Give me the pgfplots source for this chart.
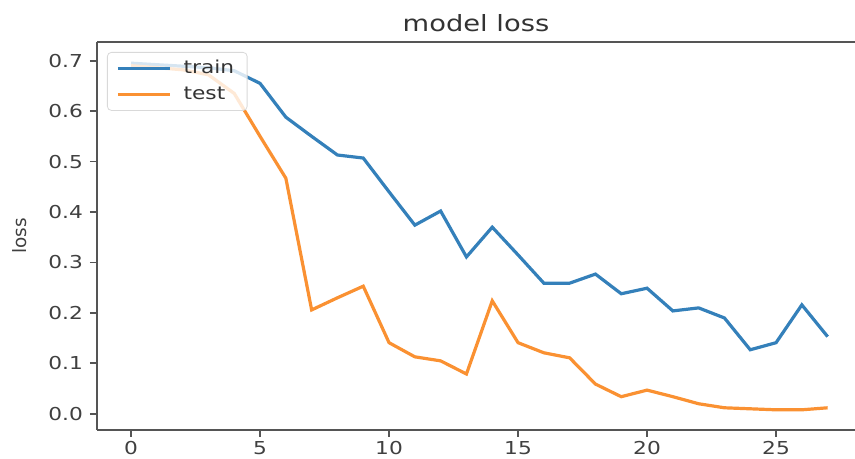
\documentclass[border=0pt]{standalone}
\usepackage{fontspec}
\setmainfont{DejaVu Sans}
\usepackage{graphicx}
\usepackage{pgfplots}
\pgfplotsset{compat=1.18}
\definecolor{mplblue}{RGB}{52,128,186}
\definecolor{mplorange}{RGB}{250,145,50}
\definecolor{spine}{RGB}{85,85,85}
\newcommand{\sx}[1]{\scalebox{1.22}[1]{#1}}
\begin{document}
\begin{tikzpicture}
\begin{axis}[
  scale only axis,
  width=379pt, height=194pt,
  xmin=-1.32, xmax=28.06,
  ymin=-0.032, ymax=0.737,
  axis y line*=left,
  axis x line*=box,
  xtick pos=left,
  axis line style={spine, line width=0.9pt},
  tick style={spine, line width=0.9pt},
  tick align=outside,
  major tick length=3.5pt,
  xtick={0,5,10,15,20,25},
  ytick={0,0.1,0.2,0.3,0.4,0.5,0.6,0.7},
  xticklabel={\sx{\pgfmathprintnumber[assume math mode=true]{\tick}}},
  yticklabel={\sx{\pgfmathprintnumber[assume math mode=true,fixed,fixed zerofill,precision=1]{\tick}}},
  tick label style={font=\fontsize{8.9}{10}\selectfont, text=black!75},
  xticklabel style={yshift=1.5pt},
  title={\sx{model loss}},
  title style={font=\fontsize{11.2}{13}\selectfont, text=black!80, at={(axis description cs:0.5,1)}, anchor=base, yshift=-1pt},
  ylabel={loss},
  ylabel style={font=\fontsize{9.2}{10}\selectfont, text=black!75, at={(axis description cs:-0.1016,0.5)}, anchor=center},
  legend style={at={(axis description cs:0,1)}, anchor=north west, xshift=5pt, yshift=-5pt,
    draw=black!15, rounded corners=2pt, fill=white, fill opacity=0.8, text opacity=1,
    font=\fontsize{8.9}{10}\selectfont, text=black!80, row sep=1pt, inner xsep=4.5pt, inner ysep=2pt},
  legend cell align=left,
  legend image code/.code={\draw[#1] (0pt,0pt) -- (26pt,0pt); \path (30pt,0pt);},
]
\addplot[mplblue, line width=1.6pt] coordinates {
(0,0.695) (1,0.692) (2,0.689) (3,0.686) (4,0.680) (5,0.655) (6,0.588) (7,0.550)
(8,0.513) (9,0.507) (10,0.440) (11,0.374) (12,0.402) (13,0.311) (14,0.370)
(15,0.315) (16,0.259) (17,0.259) (18,0.277) (19,0.238) (20,0.249) (21,0.204)
(22,0.210) (23,0.190) (24,0.127) (25,0.141) (26,0.216) (27,0.153)
};
\addlegendentry{\sx{train}}
\addplot[mplorange, line width=1.6pt] coordinates {
(0,0.690) (1,0.686) (2,0.682) (3,0.672) (4,0.635) (5,0.550) (6,0.467) (7,0.206)
(8,0.230) (9,0.253) (10,0.141) (11,0.113) (12,0.105) (13,0.079) (14,0.224)
(15,0.141) (16,0.121) (17,0.111) (18,0.059) (19,0.034) (20,0.047) (21,0.034)
(22,0.020) (23,0.012) (24,0.010) (25,0.008) (26,0.008) (27,0.012)
};
\addlegendentry{\sx{test}}
\end{axis}
\pgfresetboundingbox
\useasboundingbox ([shift={(-48.5pt,-14.5pt)}]current axis.south west) rectangle ([shift={(0pt,21pt)}]current axis.north east);
\end{tikzpicture}
\end{document}
